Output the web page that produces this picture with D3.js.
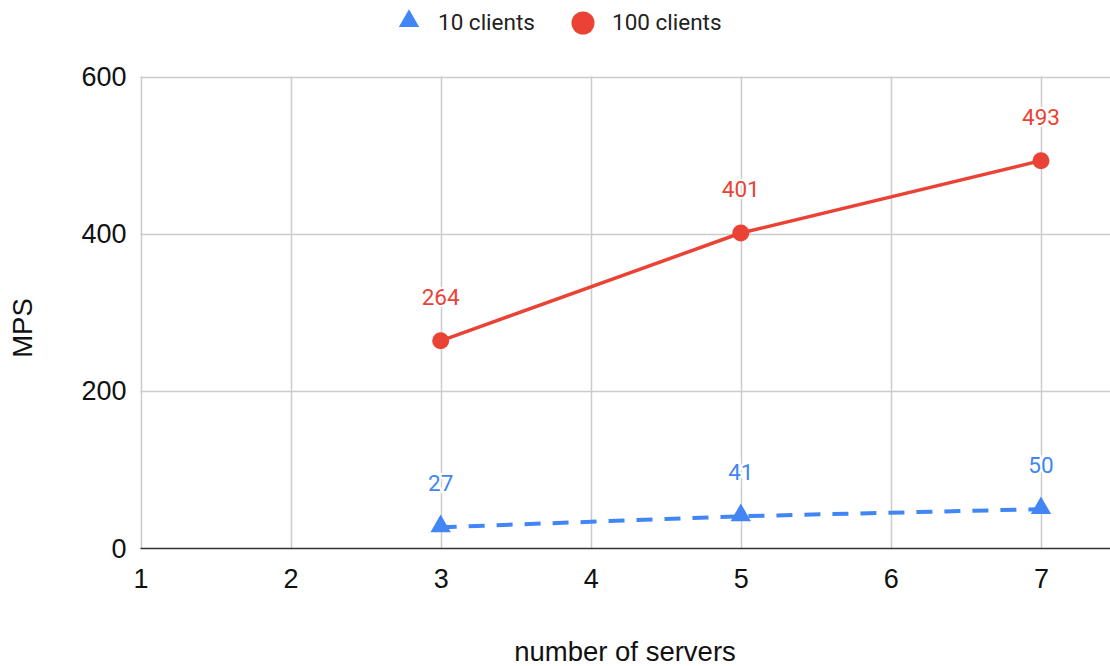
<!DOCTYPE html>
<html lang="en">
  <head>
    <meta charset="UTF-8" />
    <title>MPS</title>
    <script src="https://cdn.jsdelivr.net/npm/d3@7"></script>
    <style>
      body { margin: 0; background: #fff; }
    </style>
  </head>
  <body>
    <svg width="1110" height="666"></svg>
  </body>

  <script>
    // data
    var servers = [3, 5, 7];
    var clients10 = [27, 41, 50];
    var clients100 = [264, 401, 493];
    var xTicks = [1, 2, 3, 4, 5, 6, 7];
    var yTicks = [0, 200, 400, 600];
    var seriesNames = ['10 clients', '100 clients'];

    var blue = '#4285f4', red = '#ea4335';
    var axisFont = 'Liberation Sans, Arial, sans-serif';
    var labelFont = 'Roboto, sans-serif';

    var svg = d3.select('svg');
    var mLeft = 140.5, mRight = 1110, mTop = 76.5, mBottom = 548.5;

    var x = d3.scaleLinear().domain([1, 7.46]).range([mLeft, mRight]);
    var y = d3.scaleLinear().domain([0, 600]).range([mBottom, mTop]);

    // grid
    var grid = svg.append('g');
    grid.selectAll('.vg').data(xTicks).enter().append('line')
      .attr('x1', function (d) { return Math.round(x(d)) + 0.5; })
      .attr('x2', function (d) { return Math.round(x(d)) + 0.5; })
      .attr('y1', mTop).attr('y2', mBottom)
      .attr('stroke', '#cccccc').attr('stroke-width', 1.5);
    grid.selectAll('.hg').data(yTicks.slice(1)).enter().append('line')
      .attr('x1', mLeft).attr('x2', mRight)
      .attr('y1', function (d) { return Math.round(y(d)) + 0.5; })
      .attr('y2', function (d) { return Math.round(y(d)) + 0.5; })
      .attr('stroke', '#cccccc').attr('stroke-width', 1.5);
    // baseline
    svg.append('line').attr('x1', mLeft).attr('x2', mRight)
      .attr('y1', y(0)).attr('y2', y(0))
      .attr('stroke', '#333').attr('stroke-width', 1.5);

    // axes via d3 axis, domain/ticks hidden
    var axX = svg.append('g').attr('transform', 'translate(0,' + mBottom + ')')
      .call(d3.axisBottom(x).tickValues(xTicks).tickSize(0).tickPadding(20).tickFormat(d3.format('d')));
    var axY = svg.append('g').attr('transform', 'translate(' + mLeft + ',0)')
      .call(d3.axisLeft(y).tickValues(yTicks).tickSize(0).tickPadding(14));
    [axX, axY].forEach(function (a) {
      a.attr('font-size', 27).attr('font-family', axisFont);
      a.select('.domain').remove();
      a.selectAll('text').attr('fill', '#111');
    });

    // axis titles
    svg.append('text').attr('x', 625).attr('y', 661).attr('text-anchor', 'middle')
      .attr('font-size', 27.5).attr('fill', '#111').attr('font-family', axisFont)
      .text('number of servers');
    svg.append('text').attr('transform', 'translate(32,328) rotate(-90)')
      .attr('text-anchor', 'middle').attr('font-size', 27.5).attr('fill', '#111')
      .attr('font-family', axisFont)
      .text('MPS');

    var line = d3.line()
      .x(function (d) { return x(d[0]); })
      .y(function (d) { return y(d[1]); });

    var s10 = servers.map(function (d, i) { return [d, clients10[i]]; });
    var s100 = servers.map(function (d, i) { return [d, clients100[i]]; });

    // labels (white halo behind)
    function labels(data, color) {
      svg.append('g').selectAll('text').data(data).enter().append('text')
        .attr('x', function (d) { return x(d[0]); })
        .attr('y', function (d) { return y(d[1]) - 36; })
        .attr('text-anchor', 'middle').attr('font-size', 22.5)
        .attr('font-family', labelFont)
        .attr('fill', color).attr('stroke', '#fff').attr('stroke-width', 4)
        .attr('paint-order', 'stroke')
        .text(function (d) { return d[1]; });
    }

    svg.append('path').datum(s10).attr('d', line)
      .attr('fill', 'none').attr('stroke', blue).attr('stroke-width', 4)
      .attr('stroke-dasharray', '16,12');
    svg.append('path').datum(s100).attr('d', line)
      .attr('fill', 'none').attr('stroke', red).attr('stroke-width', 3.5);

    var tri = d3.symbol().type(d3.symbolTriangle).size(180);
    svg.append('g').selectAll('path').data(s10).enter().append('path')
      .attr('d', tri)
      .attr('transform', function (d) { return 'translate(' + x(d[0]) + ',' + (y(d[1]) - 1) + ')'; })
      .attr('fill', blue);
    svg.append('g').selectAll('circle').data(s100).enter().append('circle')
      .attr('cx', function (d) { return x(d[0]); })
      .attr('cy', function (d) { return y(d[1]); })
      .attr('r', 8.5).attr('fill', red);

    labels(s10, blue);
    labels(s100, red);

    // legend
    var lg = svg.append('g').attr('font-family', labelFont).attr('font-size', 22.5);
    lg.append('path').attr('d', tri).attr('transform', 'translate(409,21)').attr('fill', blue);
    lg.append('text').attr('x', 438).attr('y', 30).attr('fill', '#222').text(seriesNames[0]);
    lg.append('circle').attr('cx', 583).attr('cy', 23).attr('r', 11.5).attr('fill', red);
    lg.append('text').attr('x', 612).attr('y', 30).attr('fill', '#222').text(seriesNames[1]);
  </script>
</html>
